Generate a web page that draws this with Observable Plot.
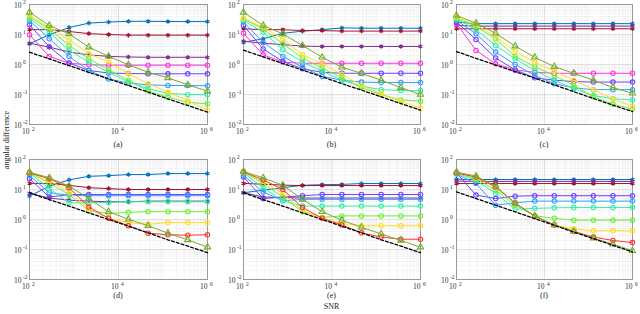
<!DOCTYPE html>
<html>
<head>
<meta charset="utf-8">
<script src="https://cdn.jsdelivr.net/npm/d3@7"></script>
<script src="https://cdn.jsdelivr.net/npm/@observablehq/plot@0.6"></script>
<style>
  html, body { margin: 0; padding: 0; background: #fff; }
  #fig { position: relative; width: 640px; height: 314px; overflow: hidden; background: #fff;
         font-family: "Liberation Serif", "DejaVu Serif", serif; color: #262626; }
  #fig svg { position: absolute; overflow: visible; }
  .lbl { position: absolute; transform: translate(-50%, -50%); font-size: 8px; line-height: 8px; white-space: nowrap; }
</style>
</head>
<body>
<div id="fig"></div>
<script>
// ---------------- data ----------------
const snr = [100, 278, 774, 2154, 5995, 16681, 46416, 129155, 359381, 1000000];

const xTickValues = [1e2, 1e4, 1e6];
const xTickExp = ["2", "4", "6"];
const yTickValues = [1e-2, 1e-1, 1, 10, 100];
const yTickExp = ["-2", "-1", "0", "1", "2"];
const captions = ["(a)", "(b)", "(c)", "(d)", "(e)", "(f)"];

const panelA = {
  blue:      [4.9, 9.8, 17, 24, 26, 27.5, 27.5, 27, 27, 27],
  darkred:   [14.5, 14.5, 12.6, 10.7, 10, 9.5, 9.5, 9.5, 9.5, 9.5],
  purple:    [5.1, 3.8, 2.6, 2.1, 1.86, 1.78, 1.74, 1.74, 1.74, 1.74],
  magenta:   [9.8, 1.86, 1.1, 0.98, 0.95, 0.95, 0.95, 0.95, 0.95, 0.95],
  violet:    [21, 3.9, 1.12, 0.63, 0.52, 0.5, 0.49, 0.49, 0.49, 0.49],
  lightblue: [29.5, 7.2, 1.86, 0.63, 0.33, 0.24, 0.21, 0.2, 0.2, 0.195],
  mint:      [33, 12, 2.95, 1.2, 0.55, 0.26, 0.155, 0.11, 0.1, 0.098],
  green:     [38, 15.5, 4.3, 1.55, 0.66, 0.3, 0.13, 0.081, 0.055, 0.049],
  yellow:    [43, 17.5, 6.6, 2.3, 1.2, 0.49, 0.23, 0.12, 0.063, 0.03],
  olive:     [55, 20, 10.5, 3.8, 1.86, 0.98, 0.55, 0.36, 0.21, 0.13],
  bound:     [2.57, 1.54, 0.92, 0.55, 0.33, 0.2, 0.12, 0.071, 0.043, 0.026]
};
const panelB = {
  blue:      [5.5, 7.2, 11, 12.9, 14.5, 16.6, 16.2, 16.2, 16.2, 16.2],
  darkred:   [15.5, 14.5, 14.5, 13.5, 13.5, 13, 13, 13, 13, 13],
  purple:    [6, 5.1, 4.6, 4.1, 4, 4, 4, 4, 4, 4],
  magenta:   [11, 2.1, 1.2, 1.1, 1.1, 1.1, 1.1, 1.1, 1.1, 1.1],
  violet:    [20, 3.3, 1.26, 0.72, 0.55, 0.51, 0.51, 0.51, 0.51, 0.51],
  lightblue: [26, 5.5, 1.86, 0.81, 0.4, 0.3, 0.26, 0.25, 0.25, 0.25],
  mint:      [29.5, 12, 3.1, 1.2, 0.6, 0.3, 0.19, 0.145, 0.135, 0.135],
  green:     [33, 15.5, 4.9, 1.66, 0.76, 0.36, 0.17, 0.098, 0.066, 0.06],
  yellow:    [35, 17.5, 7.2, 2.1, 1.05, 0.47, 0.2, 0.105, 0.059, 0.035],
  olive:     [55, 20, 10.5, 4.3, 1.74, 0.81, 0.51, 0.3, 0.17, 0.1],
  bound:     [3.0, 1.8, 1.08, 0.65, 0.39, 0.23, 0.14, 0.084, 0.05, 0.03]
};
const panelC = {
  blue:      [26, 23, 23, 23, 23, 23, 23, 23, 23, 23],
  purple:    [20, 19, 19, 19, 19, 19, 19, 19, 19, 19],
  darkred:   [15.5, 15.5, 15.5, 15.5, 15.5, 15.5, 15.5, 15.5, 15.5, 15.5],
  magenta:   [23, 2.95, 1.05, 0.66, 0.55, 0.51, 0.51, 0.51, 0.51, 0.51],
  violet:    [26, 6.8, 1.66, 0.66, 0.36, 0.3, 0.27, 0.26, 0.26, 0.26],
  lightblue: [29.5, 10.5, 2.6, 1.0, 0.43, 0.23, 0.166, 0.145, 0.145, 0.145],
  mint:      [33, 14.5, 4.3, 1.55, 0.63, 0.3, 0.155, 0.093, 0.072, 0.066],
  green:     [35, 18.6, 7.2, 1.86, 0.85, 0.43, 0.2, 0.085, 0.047, 0.033],
  yellow:    [38, 21, 8.5, 2.75, 1.2, 0.6, 0.3, 0.145, 0.072, 0.04],
  olive:     [43, 24, 11, 4.1, 1.74, 0.85, 0.51, 0.3, 0.17, 0.11],
  bound:     [2.7, 1.6, 0.96, 0.58, 0.35, 0.21, 0.124, 0.074, 0.044, 0.027]
};
const panelD = {
  blue:      [6, 12.9, 21, 27.5, 29, 31.5, 31.5, 34, 34, 34],
  darkred:   [16, 16, 13.8, 11.5, 10.7, 10, 10, 10, 10, 10],
  purple:    [7.4, 5.2, 4.4, 4.1, 3.9, 3.9, 4.1, 4.1, 4.1, 4.1],
  violet:    [23, 5.6, 6.8, 6.8, 6.8, 6.8, 6.8, 6.8, 6.8, 6.8],
  lightblue: [29.5, 7.8, 6.5, 6.2, 6.2, 6.2, 6.2, 6.2, 6.2, 6.2],
  mint:      [35.5, 10.7, 3.6, 3.6, 3.7, 3.9, 3.9, 3.9, 3.9, 3.9],
  green:     [35.5, 16.6, 6.8, 1.95, 1.6, 1.74, 1.82, 1.82, 1.82, 1.82],
  yellow:    [35.5, 20, 8.3, 2.3, 1.1, 0.79, 0.69, 0.79, 0.79, 0.79],
  red:       [35.5, 23, 11.5, 2.6, 1.1, 0.62, 0.35, 0.31, 0.3, 0.31],
  olive:     [38, 24.5, 13, 5.0, 1.82, 1.02, 0.62, 0.35, 0.21, 0.12],
  bound:     [7.8, 4.6, 2.8, 1.66, 1.0, 0.6, 0.36, 0.21, 0.13, 0.078]
};
const panelE = {
  blue:      [7.8, 9.5, 11.5, 13.8, 14.5, 14.8, 15.8, 15.8, 15.8, 15.8],
  darkred:   [16, 15, 14, 13.5, 13.5, 13.5, 13.5, 13.5, 13.5, 13.5],
  purple:    [7.8, 5.6, 5.4, 5.2, 5.2, 5.2, 5.2, 5.2, 5.2, 5.2],
  violet:    [26, 5.0, 5.6, 6.2, 6.8, 6.8, 6.8, 6.8, 6.8, 6.8],
  lightblue: [29.5, 8.3, 4.2, 4.7, 4.7, 4.7, 4.7, 4.7, 4.7, 4.7],
  mint:      [35.5, 11.5, 4.2, 2.8, 2.8, 2.8, 2.8, 2.8, 2.8, 2.8],
  green:     [38, 16, 5.6, 1.82, 1.17, 1.32, 1.32, 1.32, 1.32, 1.32],
  yellow:    [38, 19, 7.2, 2.0, 1.1, 0.74, 0.62, 0.62, 0.62, 0.62],
  red:       [38, 21, 10, 2.5, 1.1, 0.66, 0.36, 0.26, 0.22, 0.22],
  olive:     [40, 24.5, 13.8, 4.7, 1.82, 0.95, 0.55, 0.33, 0.2, 0.12],
  bound:     [7.8, 4.6, 2.8, 1.66, 1.0, 0.6, 0.36, 0.21, 0.13, 0.078]
};
const panelF = {
  blue:      [22, 21.5, 21.5, 21.5, 21.5, 21.5, 21.5, 21.5, 21.5, 21.5],
  purple:    [19, 18.6, 18.6, 18.6, 18.6, 18.6, 18.6, 18.6, 18.6, 18.6],
  darkred:   [15.8, 15.8, 15.8, 15.8, 15.8, 15.8, 15.8, 15.8, 15.8, 15.8],
  violet:    [35.5, 6.5, 5.0, 6.0, 6.2, 6.2, 6.2, 6.2, 6.2, 6.2],
  lightblue: [33, 15.8, 3.0, 3.6, 4.1, 4.1, 4.1, 4.1, 4.1, 4.1],
  mint:      [35.5, 20, 7.4, 2.2, 2.35, 2.45, 2.5, 2.5, 2.5, 2.5],
  green:     [35.5, 23, 9.5, 3.0, 1.32, 1.1, 0.95, 0.95, 0.95, 0.95],
  yellow:    [35.5, 24.5, 12, 3.5, 1.29, 0.66, 0.48, 0.42, 0.42, 0.42],
  red:       [35.5, 26, 12.3, 3.5, 1.29, 0.66, 0.4, 0.26, 0.2, 0.17],
  olive:     [38, 28, 12.9, 3.5, 1.32, 0.66, 0.4, 0.24, 0.15, 0.091],
  bound:     [8.3, 5.0, 3.0, 1.8, 1.07, 0.64, 0.38, 0.23, 0.138, 0.083]
};
const panels = [panelA, panelB, panelC, panelD, panelE, panelF];

// ---------------- styles ----------------
const seriesStyle = {
  blue:      {color: "#0072BD", symbol: "asterisk"},
  darkred:   {color: "#A2142F", symbol: "asterisk"},
  purple:    {color: "#7E2F8E", symbol: "asterisk"},
  magenta:   {color: "#FF33DD", symbol: "circle"},
  violet:    {color: "#7040FF", symbol: "circle"},
  lightblue: {color: "#33A0FF", symbol: "circle"},
  mint:      {color: "#33F0A8", symbol: "circle"},
  green:     {color: "#6CF03A", symbol: "circle"},
  yellow:    {color: "#FFDD22", symbol: "circle"},
  red:       {color: "#FF3333", symbol: "circle"},
  olive:     {color: "#77AC30", symbol: "triangle"}
};
const drawOrder = ["blue", "darkred", "purple", "magenta", "violet", "lightblue", "mint", "green", "yellow", "red", "olive"];

const colLeft = [29, 243, 456];
const colWidth = [178, 177, 176];
const rowTop = [4, 159];
const captionTop = [145, 296];
const plotH = 120;

const xGrid = d3.scaleLog().domain([1e2, 1e6]).ticks();
const yGrid = d3.scaleLog().domain([1e-2, 1e2]).ticks();
const xTicks = xTickValues.map((v, i) => ({v, e: xTickExp[i]}));
const yTicks = yTickValues.map((v, i) => ({v, e: yTickExp[i]}));

const fig = document.getElementById("fig");

panels.forEach((p, idx) => {
  const col = idx % 3, row = Math.floor(idx / 3);
  const mL = 29, mR = 8, mT = 4, mB = 30;
  const marks = [
    Plot.gridX(xGrid, {stroke: "#000", strokeOpacity: 0.045, strokeWidth: 1}),
    Plot.gridY(yGrid, {stroke: "#000", strokeOpacity: 0.045, strokeWidth: 1}),
    Plot.gridX(xTickValues, {stroke: "#000", strokeOpacity: 0.07, strokeWidth: 1}),
    Plot.gridY(yTickValues, {stroke: "#000", strokeOpacity: 0.07, strokeWidth: 1}),
    Plot.frame({stroke: "#9a9a9a", strokeWidth: 1})
  ];
  drawOrder.forEach(key => {
    if (!p[key]) return;
    const st = seriesStyle[key];
    const rows = snr.map((s, i) => ({s, v: p[key][i]}));
    marks.push(Plot.line(rows, {x: "s", y: "v", stroke: st.color, strokeWidth: 1}));
    marks.push(Plot.dot(rows, {x: "s", y: "v", stroke: st.color, fill: st.symbol === "asterisk" ? st.color : "none",
      symbol: st.symbol, r: st.symbol === "asterisk" ? 2.1 : (st.symbol === "triangle" ? 2.3 : 2.2),
      strokeWidth: st.symbol === "asterisk" ? 1.2 : 1.1}));
  });
  const boundRows = snr.map((s, i) => ({s, v: p.bound[i]}));
  marks.push(Plot.line(boundRows, {x: "s", y: "v", stroke: "#000", strokeWidth: 1.3, strokeDasharray: "3,2"}));
  // tick labels
  marks.push(Plot.text(xTicks, {x: "v", frameAnchor: "bottom", text: () => "10", textAnchor: "end", dx: 0, dy: 9, fontSize: 7.5, fill: "#333"}));
  marks.push(Plot.text(xTicks, {x: "v", frameAnchor: "bottom", text: "e", textAnchor: "start", dx: 2.5, dy: 6.5, fontSize: 5.5, fill: "#333"}));
  marks.push(Plot.text(yTicks, {y: "v", frameAnchor: "left", text: () => "10", textAnchor: "end", dx: -8, dy: 1, fontSize: 7.5, fill: "#333"}));
  marks.push(Plot.text(yTicks, {y: "v", frameAnchor: "left", text: "e", textAnchor: "start", dx: -6.5, dy: -1.8, fontSize: 5.5, fill: "#333"}));

  const svg = Plot.plot({
    width: mL + colWidth[col] + mR,
    height: mT + plotH + mB,
    marginLeft: mL, marginRight: mR, marginTop: mT, marginBottom: mB,
    x: {type: "log", domain: [1e2, 1e6], axis: null},
    y: {type: "log", domain: [1e-2, 1e2], axis: null},
    style: {fontFamily: "Liberation Serif, DejaVu Serif, serif", background: "transparent", overflow: "visible"},
    marks
  });
  svg.style.left = (colLeft[col] - mL) + "px";
  svg.style.top = (rowTop[row] - mT) + "px";
  fig.appendChild(svg);

  const cap = document.createElement("div");
  cap.className = "lbl";
  cap.textContent = captions[idx];
  cap.style.left = (colLeft[col] + colWidth[col] / 2) + "px";
  cap.style.top = captionTop[row] + "px";
  fig.appendChild(cap);
});

const xl = document.createElement("div");
xl.className = "lbl";
xl.textContent = "SNR";
xl.style.left = (colLeft[1] + colWidth[1] / 2) + "px";
xl.style.top = "307px";
fig.appendChild(xl);

const yl = document.createElement("div");
yl.className = "lbl";
yl.textContent = "angular difference";
yl.style.left = "7px";
yl.style.top = "140px";
yl.style.transform = "translate(-50%, -50%) rotate(-90deg)";
fig.appendChild(yl);
</script>
</body>
</html>
